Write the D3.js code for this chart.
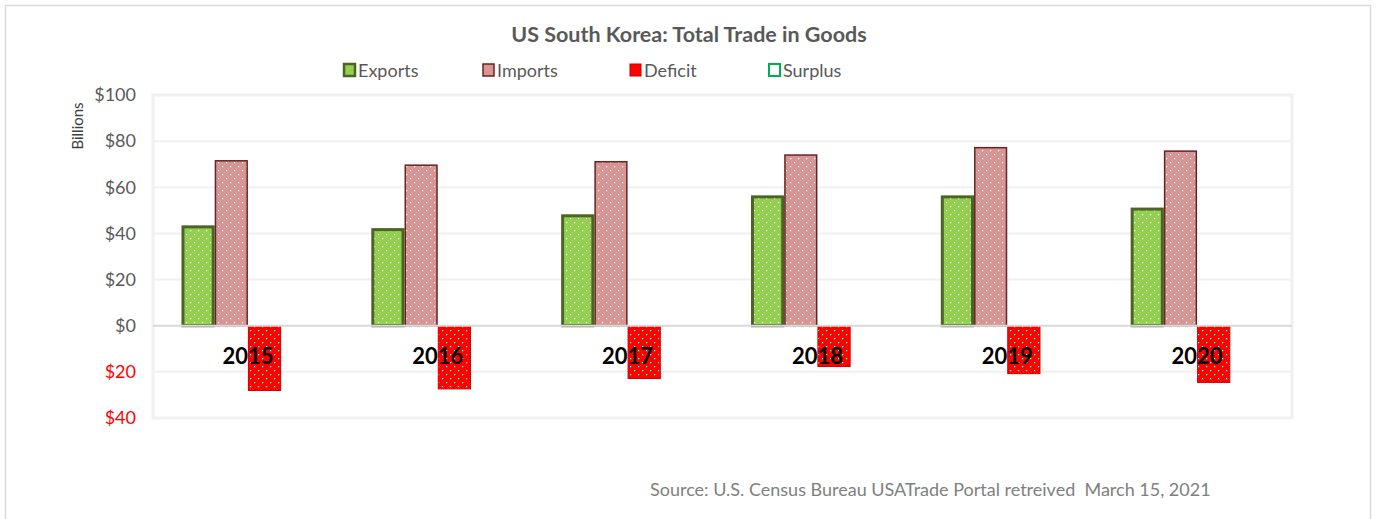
<!DOCTYPE html>
<html>
<head>
<meta charset="utf-8">
<script src="https://cdn.jsdelivr.net/npm/d3@7"></script>
<style>
  body { margin: 0; background: #fff; }
  svg { display: block; font-family: Lato, "Open Sans", sans-serif; }
</style>
</head>
<body>
<script>
var years = ["2015", "2016", "2017", "2018", "2019", "2020"]
var exportsVals = [43.5, 42.3, 48.3, 56.5, 56.5, 51.2]
var importsVals = [71.8, 69.9, 71.4, 74.3, 77.5, 76.0]
var deficitVals = [-28.3, -27.6, -23.1, -17.9, -21.0, -24.8]
var surplusVals = [0, 0, 0, 0, 0, 0]
var seriesNames = ["Exports", "Imports", "Deficit", "Surplus"]
var yTicks = [-40, -20, 0, 20, 40, 60, 80, 100]

var W = 1376, H = 519
var svg = d3.select("body").append("svg").attr("width", W).attr("height", H)

// dotted fill patterns like Excel's 5% pattern
var defs = svg.append("defs")
var fills = { Exports: "#92d050", Imports: "#d99594", Deficit: "#ff0000" }
Object.keys(fills).forEach(function(k) {
  var p = defs.append("pattern").attr("id", "pat-" + k)
    .attr("patternUnits", "userSpaceOnUse").attr("width", 8).attr("height", 8)
  p.append("rect").attr("width", 8).attr("height", 8).attr("fill", fills[k])
  p.append("rect").attr("x", 2).attr("y", 2).attr("width", 1.2).attr("height", 1.2).attr("fill", "#fff")
  p.append("rect").attr("x", 6).attr("y", 6).attr("width", 1.2).attr("height", 1.2).attr("fill", "#fff")
})

// outer border
svg.append("rect").attr("x", 5.5).attr("y", 5.5).attr("width", 1365).attr("height", 520)
  .attr("fill", "none").attr("stroke", "#d9d9d9").attr("stroke-width", 1.5)

var plot = { left: 153, right: 1292, top: 95, bottom: 418 }

var x = d3.scaleBand().domain(years).range([plot.left, plot.right])
// 4 bars take ~70% of each band
var xs = d3.scaleBand().domain(seriesNames)
  .range([x.bandwidth() * 0.15, x.bandwidth() * 0.85])
var y = d3.scaleLinear().domain([-40, 100]).range([plot.bottom, plot.top])

// gridlines
svg.append("g").selectAll("line").data(yTicks.filter(function(d) { return d !== 0 && d !== -40 && d !== 100 }))
  .enter().append("line")
  .attr("x1", plot.left).attr("x2", plot.right)
  .attr("y1", function(d) { return y(d) }).attr("y2", function(d) { return y(d) })
  .attr("stroke", "#f0f0f0").attr("stroke-width", 2)

// plot frame
svg.append("rect").attr("x", plot.left).attr("y", plot.top)
  .attr("width", plot.right - plot.left).attr("height", plot.bottom - plot.top)
  .attr("fill", "none").attr("stroke", "#f0f0f0").attr("stroke-width", 3)

// y axis labels
var yAxis = d3.axisLeft(y).tickValues(yTicks).tickSize(0).tickPadding(0)
  .tickFormat(function(d) { return "$" + Math.abs(d) })
var ya = svg.append("g").attr("transform", "translate(136,0)").call(yAxis)
ya.select(".domain").remove()
ya.selectAll("text").attr("font-size", 18).attr("font-family", "Lato, sans-serif")
  .attr("fill", function(d) { return d < 0 ? "#ff0000" : "#595959" })

svg.append("text").attr("transform", "translate(83,126) rotate(-90)")
  .attr("text-anchor", "middle").attr("font-size", 15).attr("fill", "#404040").text("Billions")

// bars
var series = [
  { name: "Exports", vals: exportsVals, stroke: "#4f6228", sw: 3 },
  { name: "Imports", vals: importsVals, stroke: "#632523", sw: 1.5 },
  { name: "Deficit", vals: deficitVals, stroke: "#d00000", sw: 1 }
]
series.forEach(function(s) {
  svg.append("g").selectAll("rect").data(s.vals).enter().append("rect")
    .attr("x", function(d, i) { return x(years[i]) + xs(s.name) + s.sw / 2 })
    .attr("width", xs.bandwidth() - s.sw)
    .attr("y", function(d) { return y(Math.max(0, d)) + (d > 0 ? s.sw / 2 : 0) })
    .attr("height", function(d) { return Math.abs(y(d) - y(0)) - s.sw / 2 })
    .attr("fill", "url(#pat-" + s.name + ")")
    .attr("stroke", s.stroke).attr("stroke-width", s.sw)
})

// zero line
svg.append("line").attr("x1", plot.left).attr("x2", plot.right)
  .attr("y1", y(0)).attr("y2", y(0)).attr("stroke", "#d9d9d9").attr("stroke-width", 2)

// surplus bars (all zero)
svg.append("g").selectAll("rect").data(surplusVals).enter().append("rect")
  .attr("x", function(d, i) { return x(years[i]) + xs("Surplus") })
  .attr("width", xs.bandwidth())
  .attr("y", function(d) { return y(Math.max(0, d)) })
  .attr("height", function(d) { return Math.abs(y(d) - y(0)) })
  .attr("fill", "none").attr("stroke", "#00b050")

// year labels
svg.append("g").selectAll("text").data(years).enter().append("text")
  .attr("x", function(d) { return x(d) + x.bandwidth() / 2 })
  .attr("y", y(0) + 38)
  .attr("text-anchor", "middle").attr("font-size", 22).attr("font-weight", "bold")
  .attr("fill", "#000").text(function(d) { return d })

// title
svg.append("text").attr("x", 689).attr("y", 42).attr("text-anchor", "middle")
  .attr("font-size", 21.5).attr("font-weight", "bold").attr("fill", "#595959")
  .text("US South Korea: Total Trade in Goods")

// legend
var legendX = [343, 482, 629, 768]
var legendStyle = {
  Exports: { fill: "#92d050", stroke: "#4f6228", sw: 2.5 },
  Imports: { fill: "#d99594", stroke: "#632523", sw: 1.5 },
  Deficit: { fill: "#ff0000", stroke: "#c00000", sw: 1 },
  Surplus: { fill: "#fff", stroke: "#00b050", sw: 2 }
}
var lg = svg.append("g").selectAll("g").data(seriesNames).enter().append("g")
  .attr("transform", function(d, i) { return "translate(" + legendX[i] + ",63)" })
lg.append("rect").attr("x", 1).attr("y", 1).attr("width", 11).attr("height", 12)
  .attr("fill", function(d) { return legendStyle[d].fill })
  .attr("stroke", function(d) { return legendStyle[d].stroke })
  .attr("stroke-width", function(d) { return legendStyle[d].sw })
lg.append("text").attr("x", 15).attr("y", 13.5).attr("font-size", 18).attr("fill", "#595959")
  .text(function(d) { return d })

// source
svg.append("text").attr("x", 650).attr("y", 496).attr("font-size", 18).attr("fill", "#808080")
  .attr("xml:space", "preserve")
  .text("Source: U.S. Census Bureau USATrade Portal retreived  March 15, 2021")
</script>
</body>
</html>
